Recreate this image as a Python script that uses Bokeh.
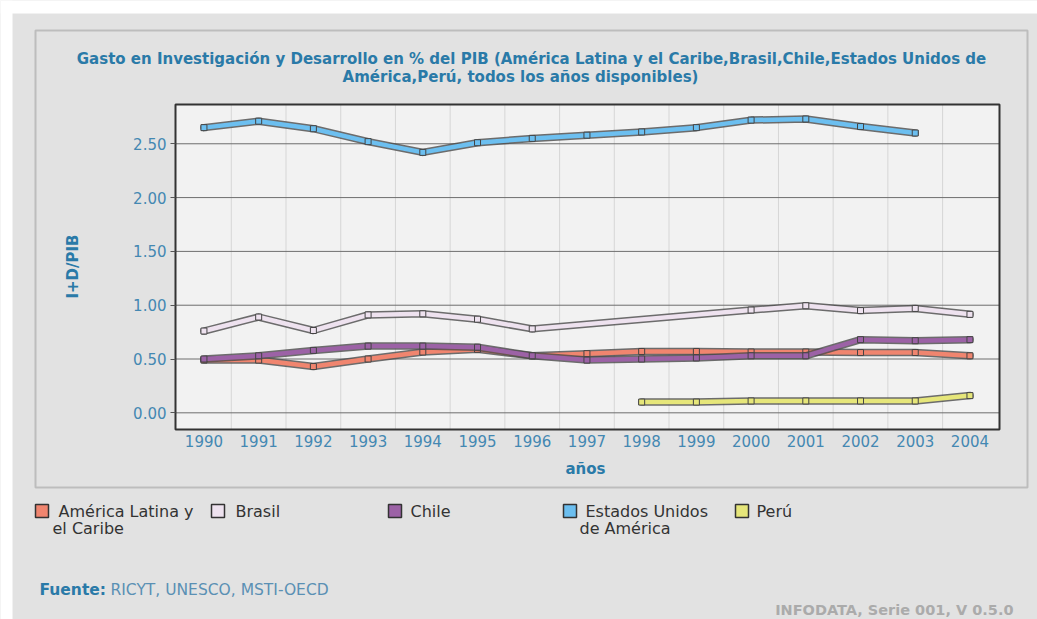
from math import pi

from bokeh.plotting import figure
from bokeh.models import Range1d, FixedTicker, NumeralTickFormatter, LinearAxis
from bokeh.core.properties import value
from bokeh.embed import file_html
from bokeh.resources import INLINE

# ---- data: R&D spending as % of GDP ----
years = list(range(1990, 2005))

alc_years = years
alc = [0.49, 0.49, 0.43, 0.50, 0.565, 0.59, 0.53, 0.55, 0.57, 0.57,
       0.565, 0.565, 0.56, 0.56, 0.53]

brasil_years = [1990, 1991, 1992, 1993, 1994, 1995, 1996,
                2000, 2001, 2002, 2003, 2004]
brasil = [0.76, 0.89, 0.765, 0.91, 0.92, 0.87, 0.78,
          0.955, 0.995, 0.95, 0.97, 0.915]

chile_years = years
chile = [0.50, 0.53, 0.58, 0.62, 0.62, 0.61, 0.53, 0.49, 0.50, 0.51,
         0.53, 0.53, 0.68, 0.67, 0.68]

usa_years = list(range(1990, 2004))
usa = [2.65, 2.71, 2.64, 2.52, 2.42, 2.51, 2.55, 2.58, 2.61, 2.65,
       2.72, 2.73, 2.66, 2.60]

peru_years = list(range(1998, 2005))
peru = [0.10, 0.10, 0.11, 0.11, 0.11, 0.11, 0.16]

y_ticks = [0.0, 0.5, 1.0, 1.5, 2.0, 2.5]

series_names = ["América Latina y el Caribe", "Brasil", "Chile",
                "Estados Unidos de América", "Perú"]
series_x = [alc_years, brasil_years, chile_years, usa_years, peru_years]
series_y = [alc, brasil, chile, usa, peru]
series_colors = ["#f0856f", "#eee2ef", "#9c62a6", "#6cbff0", "#e6e67a"]

legend_lines = [["América Latina y", "el Caribe"], ["Brasil"], ["Chile"],
                ["Estados Unidos", "de América"], ["Perú"]]

TITLE_1 = ("Gasto en Investigación y Desarrollo en % del PIB (América Latina "
           "y el Caribe,Brasil,Chile,Estados Unidos de")
TITLE_2 = "América,Perú, todos los años disponibles)"
X_LABEL = "años"
Y_LABEL = "I+D/PIB"
SOURCE_LABEL = "Fuente:"
SOURCE_TEXT = "RICYT, UNESCO, MSTI-OECD"
VERSION_TEXT = "INFODATA, Serie 001, V 0.5.0"

# ---- styling / page geometry (pixels) ----
FONT = "DejaVu Sans"
BLUE_TXT = "#2a7aa8"
TICK_TXT = "#4488b2"
BG = "#e2e2e2"
W, H = 1037, 619
FL, FR, FT, FB = 175, 999, 104, 429          # plot area edges on the page
PANEL = (35, 30, 1027, 487)                  # inner panel border box

# visible data window of the plot area
X_LO, X_HI = 1989.48, 2004.54
Y_LO, Y_HI = -0.155, 2.865

# the frame fills the whole page; data ranges are extended so that the
# data window lands on the plot-area rectangle
xs_per_px = (X_HI - X_LO) / (FR - FL)
ys_per_px = (Y_HI - Y_LO) / (FB - FT)
x_range = Range1d(X_LO - FL * xs_per_px, X_LO + (W - FL) * xs_per_px)
y_range = Range1d(Y_LO - (H - FB) * ys_per_px, Y_HI + FT * ys_per_px)

p = figure(width=W, height=H, x_range=x_range, y_range=y_range,
           x_axis_type=None, y_axis_type=None,
           output_backend="svg", toolbar_location=None,
           min_border_left=0, min_border_right=0,
           min_border_top=0, min_border_bottom=0)
p.extra_x_ranges = {"px": Range1d(0, W)}
p.extra_y_ranges = {"py": Range1d(H, 0)}
p.background_fill_color = BG
p.border_fill_color = BG
p.outline_line_color = None

PX = dict(x_range_name="px", y_range_name="py")

# white page margins and grey panel border
p.quad(left=[0, 0], right=[W, 12], top=[0, 0], bottom=[13, H],
       fill_color="white", line_alpha=0, **PX)
p.quad(left=[PANEL[0]], right=[PANEL[2]], top=[PANEL[1]], bottom=[PANEL[3]],
       fill_alpha=0, line_color="#bdbdbd", line_width=2, **PX)

# plot area, grid lines and frame
p.quad(left=[X_LO], right=[X_HI], bottom=[Y_LO], top=[Y_HI],
       fill_color="#f2f2f2", line_alpha=0)
vgrid = [y + 0.5 for y in years[:-1]]
p.segment(x0=vgrid, x1=vgrid, y0=[Y_LO] * len(vgrid), y1=[Y_HI] * len(vgrid),
          line_color="#d6d6d6", line_width=1)
p.segment(x0=[X_LO] * len(y_ticks), x1=[X_HI] * len(y_ticks),
          y0=y_ticks, y1=y_ticks, line_color="#6e6e6e", line_width=1)

# each series: dark casing, coloured core, small square markers
for xs, ys, col in zip(series_x, series_y, series_colors):
    p.line(xs, ys, line_width=7.5, line_color="#4a4a4a", line_alpha=0.8,
           line_join="round", line_cap="round")
    p.line(xs, ys, line_width=4.5, line_color=col,
           line_join="round", line_cap="round")
    p.scatter(xs, ys, marker="square", size=6, fill_color=col,
              line_color="#444444", line_width=1)

p.quad(left=[X_LO], right=[X_HI], bottom=[Y_LO], top=[Y_HI],
       fill_alpha=0, line_color="#333333", line_width=2)

# axes pinned to the plot-area edges
xaxis = LinearAxis(fixed_location=Y_LO, ticker=FixedTicker(ticks=years),
                   major_label_standoff=-1)
xaxis.major_tick_line_color = None
yaxis = LinearAxis(fixed_location=X_LO, ticker=FixedTicker(ticks=y_ticks),
                   formatter=NumeralTickFormatter(format="0.00"),
                   major_label_standoff=4)
yaxis.major_tick_line_color = "#555555"
yaxis.major_tick_out = 5
yaxis.major_tick_in = 0
for ax in (xaxis, yaxis):
    ax.axis_line_color = None
    ax.minor_tick_line_color = None
    ax.major_label_text_font = FONT
    ax.major_label_text_font_size = "15px"
    ax.major_label_text_color = TICK_TXT
p.add_layout(xaxis, "below")
p.add_layout(yaxis, "left")


def put_text(x, y, s, size="15px", color="#333333", bold=False, align="left",
             angle=0.0):
    p.text(x=[x], y=[y], text=[s], text_font=value(FONT),
           text_font_size=value(size), text_color=color,
           text_font_style="bold" if bold else "normal",
           text_align=align, text_baseline="middle", angle=angle, **PX)


# title and axis titles
put_text(531, 58, TITLE_1, bold=True, color=BLUE_TXT, align="center")
put_text(520, 76, TITLE_2, bold=True, color=BLUE_TXT, align="center")
put_text(585, 468, X_LABEL, bold=True, color=BLUE_TXT, align="center")
put_text(72, 266, Y_LABEL, bold=True, color=BLUE_TXT, align="center",
         angle=pi / 2)

# legend
swatch_x = [35, 211, 388, 563, 735]
text_x = [[58, 52], [235], [410], [585, 579], [756]]
for sx0, lines, txs, col in zip(swatch_x, legend_lines, text_x, series_colors):
    p.quad(left=[sx0], right=[sx0 + 13], top=[504], bottom=[517],
           fill_color=col, line_color="#333333", line_width=1.5, **PX)
    for i, (ln, tx) in enumerate(zip(lines, txs)):
        put_text(tx, 511 + 17 * i, ln, size="16px", color="#333333")

# source and version notes
put_text(39, 589, SOURCE_LABEL, size="15.5px", color=BLUE_TXT, bold=True)
put_text(110, 589, SOURCE_TEXT, size="15.5px", color="#5a90b4")
put_text(1013, 609, VERSION_TEXT, size="14.5px", color="#ababab",
         bold=True, align="right")

open("out.html", "w").write(file_html(p, INLINE))
